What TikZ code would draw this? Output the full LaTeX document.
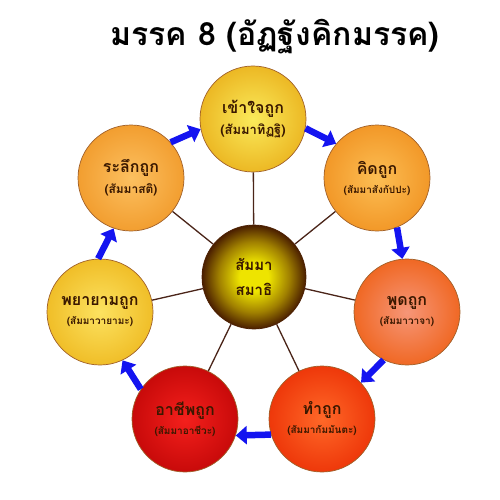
\documentclass[tikz,border=0pt]{standalone}
\usepackage{fontspec}
\newfontfamily\thaifont[Script=Thai]{Loma}
\usetikzlibrary{arrows.meta}
\definecolor{PATHblue}{HTML}{1414F0}
\definecolor{PATHrim}{HTML}{A0602A}
\definecolor{PATHspoke}{HTML}{4A2418}
\definecolor{PATHink}{HTML}{3A1800}
\definecolor{PATHcoreA}{HTML}{EEE400}
\definecolor{PATHcoreM}{HTML}{A08000}
\definecolor{PATHcoreB}{HTML}{4A1E00}
\pgfdeclareradialshading{coreglow}{\pgfpoint{0bp}{0bp}}{color(0bp)=(PATHcoreA);
 color(7bp)=(PATHcoreA); color(17bp)=(PATHcoreM); color(25bp)=(PATHcoreB); color(50bp)=(PATHcoreB)}
\tikzset{pathcirc/.style={circle,draw=PATHrim,line width=0.7pt,minimum size=106pt,
 inner sep=0pt,align=center,font=\thaifont\bfseries,text=PATHink,shading=radial},
 spoke/.style={draw=PATHspoke,line width=1.3pt},
 flowarr/.style={-{Triangle[length=11pt,width=18pt]},line width=6.5pt,draw=PATHblue}}
\newcommand{\pathtext}[4]{{\fontsize{#3}{#3}\selectfont #1}\\[6pt]{\fontsize{#4}{#4}\selectfont #2}}

\begin{document}
\begin{tikzpicture}[x=1pt,y=-1pt]
\useasboundingbox (0,0) rectangle (500,500);
\node[font=\thaifont\bfseries\fontsize{32}{32}\selectfont] (title) at (275,37) {มรรค 8 (อัฏฐังคิกมรรค)};
% centre and the seven outer circles
\node[pathcirc,minimum size=104pt,shading=coreglow,draw=PATHcoreB,
 font=\thaifont\bfseries\fontsize{15}{25}\selectfont] (samadhi) at (254,277) {สัมมา\\สมาธิ};
\node[pathcirc,inner color={rgb,255:red,250;green,234;blue,90},outer color={rgb,255:red,236;green,184;blue,36}] (ditthi) at (253,119)
 {\pathtext{เข้าใจถูก}{(สัมมาทิฏฐิ)}{16}{13}};
\node[pathcirc,inner color={rgb,255:red,252;green,190;blue,84},outer color={rgb,255:red,242;green,152;blue,40}] (sankappa) at (377,178)
 {\pathtext{คิดถูก}{(สัมมาสังกัปปะ)}{16}{10}};
\node[pathcirc,inner color={rgb,255:red,246;green,150;blue,120},outer color={rgb,255:red,240;green,104;blue,36}] (vaca) at (407,312)
 {\pathtext{พูดถูก}{(สัมมาวาจา)}{16}{10}};
\node[pathcirc,inner color={rgb,255:red,255;green,104;blue,40},outer color={rgb,255:red,238;green,56;blue,10}] (kammanta) at (322,419)
 {\pathtext{ทำถูก}{(สัมมากัมมันตะ)}{16}{10}};
\node[pathcirc,inner color={rgb,255:red,244;green,32;blue,28},outer color={rgb,255:red,200;green,10;blue,10}] (ajiva) at (185,419)
 {\pathtext{อาชีพถูก}{(สัมมาอาชีวะ)}{16}{10}};
\node[pathcirc,inner color={rgb,255:red,252;green,226;blue,96},outer color={rgb,255:red,240;green,190;blue,40}] (vayama) at (100,312)
 {\pathtext{พยายามถูก}{(สัมมาวายามะ)}{16}{10}};
\node[pathcirc,inner color={rgb,255:red,252;green,192;blue,96},outer color={rgb,255:red,242;green,158;blue,48}] (sati) at (131,178)
 {\pathtext{ระลึกถูก}{(สัมมาสติ)}{16}{12}};
% spokes
\foreach \n in {ditthi,sankappa,vaca,kammanta,ajiva,vayama,sati}
 \draw[spoke] (samadhi) -- (\n);
% blue arrows round the ring
\draw[flowarr] (ditthi.-10) -- (sankappa.140);
\draw[flowarr] (sankappa.-68) -- (vaca.95);
\draw[flowarr] (vaca.-116) -- (kammanta.43);
\draw[flowarr] (kammanta.-163) -- (ajiva.-18);
\draw[flowarr] (ajiva.146) -- (vayama.-65);
\draw[flowarr] (vayama.92) -- (sati.-109);
\draw[flowarr] (sati.42) -- (ditthi.-169);
\end{tikzpicture}
\end{document}
